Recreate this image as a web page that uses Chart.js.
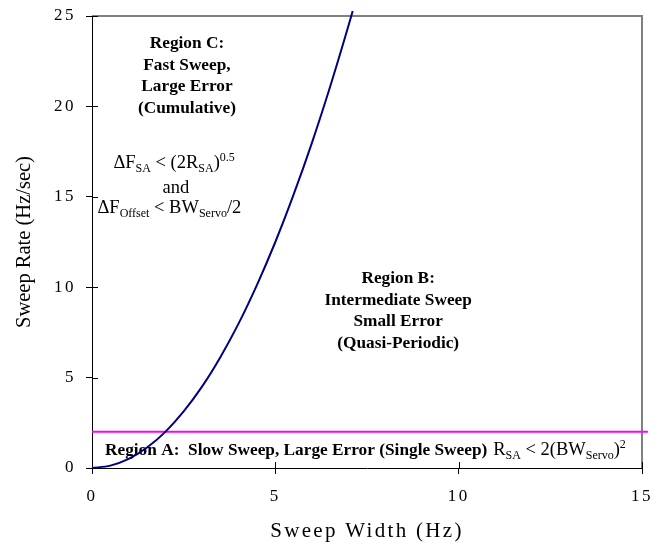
<!DOCTYPE html>
<html>
<head>
<meta charset="utf-8">
<script src="https://cdn.jsdelivr.net/npm/chart.js@4/dist/chart.umd.min.js"></script>
<style>
  html, body { margin: 0; padding: 0; background: #ffffff; }
  #wrap { width: 662px; height: 544px; }
  canvas { display: block; }
</style>
</head>
<body>
<div id="wrap"><canvas id="c" width="662" height="544"></canvas></div>
<script>
// ---- data ----
const sweepWidth = [0, 0.5, 1, 1.5, 2, 2.5, 3, 3.5, 4, 4.5, 5, 5.5, 6, 6.5, 7, 7.11];
const sweepRate  = [0, 0.13, 0.5, 1.13, 2, 3.13, 4.5, 6.13, 8, 10.13, 12.5, 15.13, 18, 21.13, 24.5, 25.28];
const limitWidth = [0, 15.16];
const limitRate  = [2, 2];
const xTicks = [0, 5, 10, 15];
const yTicks = [0, 5, 10, 15, 20, 25];
const xTitle = 'Sweep Width (Hz)';
const yTitle = 'Sweep Rate (Hz/sec)';
const regionC = ['Region C:', 'Fast Sweep,', 'Large Error', '(Cumulative)'];
const regionB = ['Region B:', 'Intermediate Sweep', 'Small Error', '(Quasi-Periodic)'];
const regionA = 'Region A:  Slow Sweep, Large Error (Single Sweep)';
const formulaC1 = [['ΔF','n'],['SA','s'],[' < (2R','n'],['SA','s'],[')','n'],['0.5','p']];
const formulaC2 = [['and','n']];
const formulaC3 = [['ΔF','n'],['Offset','s'],[' < BW','n'],['Servo','s'],['/2','n']];
const formulaA  = [['R','n'],['SA','s'],[' < 2(BW','n'],['Servo','s'],[')','n'],['2','p']];

const FAM = '"Liberation Serif", "Times New Roman", serif';

function drawRich(ctx, segs, x, y, align, sizes) {
  const fontFor = st => st === 'b' ? `bold ${sizes.bold}px ${FAM}`
                    : st === 'n' ? `${sizes.main}px ${FAM}`
                    : `${sizes.small}px ${FAM}`;
  let w = 0;
  const widths = segs.map(([t, st]) => { ctx.font = fontFor(st); const m = ctx.measureText(t).width; w += m; return m; });
  let cx = align === 'center' ? x - w / 2 : x;
  ctx.textAlign = 'left';
  ctx.textBaseline = 'alphabetic';
  segs.forEach(([t, st], i) => {
    ctx.font = fontFor(st);
    const dy = st === 's' ? 4 : st === 'p' ? -7 : 0;
    ctx.fillText(t, cx, y + dy);
    cx += widths[i];
  });
}

const spacingPlugin = {
  id: 'spacing',
  afterLayout(chart) {
    const wrap = (scale, method, sp) => {
      if (!scale || scale['__w_' + method]) return;
      const orig = scale[method];
      scale[method] = function (...a) {
        const c = this.ctx; const p = c.letterSpacing;
        c.letterSpacing = sp; orig.apply(this, a); c.letterSpacing = p || '0px';
      };
      scale['__w_' + method] = true;
    };
    wrap(chart.scales.x, 'drawLabels', '2.5px');
    wrap(chart.scales.y, 'drawLabels', '2.5px');
    wrap(chart.scales.x, 'drawTitle', '2.3px');
  },
  beforeDraw(chart) { chart.ctx.letterSpacing = '0px'; }
};

const annotPlugin = {
  id: 'annot',
  beforeDatasetsDraw(chart) {
    const ctx = chart.ctx;
    const xs = chart.scales.x, ys = chart.scales.y;
    const {left, right, top, bottom} = chart.chartArea;
    ctx.save();
    ctx.letterSpacing = '0px';
    // top and right frame
    ctx.strokeStyle = '#808080';
    ctx.lineWidth = 2;
    ctx.beginPath();
    ctx.moveTo(left, top); ctx.lineTo(right, top); ctx.lineTo(right, bottom);
    ctx.stroke();
    // inner halves of the crossing tick marks
    ctx.strokeStyle = '#000000';
    ctx.lineWidth = 1;
    ctx.beginPath();
    xs.ticks.forEach(t => { const px = Math.round(xs.getPixelForValue(t.value)) + 0.5; ctx.moveTo(px, bottom); ctx.lineTo(px, bottom - 6); });
    ys.ticks.forEach(t => { const py = Math.round(ys.getPixelForValue(t.value)) + 0.5; ctx.moveTo(left, py); ctx.lineTo(left + 6, py); });
    ctx.stroke();

    ctx.fillStyle = '#000000';
    const bigBold = {bold: 17.3, main: 18.5, small: 12};
    // Region C
    let x = xs.getPixelForValue(2.59), y = ys.getPixelForValue(23.23);
    regionC.forEach((t, i) => drawRich(ctx, [[t, 'b']], x, y + i * 21.6, 'center', bigBold));
    drawRich(ctx, formulaC1, xs.getPixelForValue(2.24), ys.getPixelForValue(16.59), 'center', bigBold);
    drawRich(ctx, formulaC2, xs.getPixelForValue(2.29), ys.getPixelForValue(15.21), 'center', bigBold);
    drawRich(ctx, formulaC3, xs.getPixelForValue(2.11), ys.getPixelForValue(14.10), 'center', bigBold);
    // Region B
    x = xs.getPixelForValue(8.35); y = ys.getPixelForValue(10.23);
    regionB.forEach((t, i) => drawRich(ctx, [[t, 'b']], x, y + i * 21.7, 'center', bigBold));
    // Region A
    drawRich(ctx, [[regionA, 'b']], xs.getPixelForValue(0.355), ys.getPixelForValue(0.72), 'left', bigBold);
    drawRich(ctx, formulaA, xs.getPixelForValue(10.94), ys.getPixelForValue(0.72), 'left', bigBold);
    ctx.restore();
  }
};

const tickFont = {family: FAM, size: 17};
new Chart(document.getElementById('c'), {
  type: 'scatter',
  data: {
    datasets: [
      {
        data: sweepWidth.map((v, i) => ({x: v, y: sweepRate[i]})),
        showLine: true,
        borderColor: '#000080',
        borderWidth: 2,
        pointRadius: 0,
        tension: 0.4,
        cubicInterpolationMode: 'monotone',
        clip: false
      },
      {
        data: limitWidth.map((v, i) => ({x: v, y: limitRate[i]})),
        showLine: true,
        borderColor: '#ff00ff',
        borderWidth: 2,
        pointRadius: 0,
        clip: false
      }
    ]
  },
  options: {
    responsive: false,
    animation: false,
    events: [],
    layout: {padding: {top: 16, right: 20, left: 0, bottom: 0}},
    plugins: {legend: {display: false}, tooltip: {enabled: false}, title: {display: false}},
    scales: {
      x: {
        type: 'linear', min: 0, max: 15,
        afterBuildTicks: s => { s.ticks = xTicks.map(v => ({value: v})); },
        afterFit: s => { s.height = 76; s.paddingLeft = 0; s.paddingRight = 0; },
        ticks: {font: tickFont, color: '#000000', padding: 12, maxRotation: 0},
        grid: {drawOnChartArea: false, tickLength: 6, color: '#000000', tickWidth: 1},
        border: {color: '#000000', width: 1},
        title: {display: true, text: xTitle, color: '#000000', font: {family: FAM, size: 21, lineHeight: 1.2}, padding: {top: 0, bottom: 0.4}}
      },
      y: {
        type: 'linear', min: 0, max: 25,
        afterBuildTicks: s => { s.ticks = yTicks.map(v => ({value: v})); },
        afterFit: s => { s.width = 92; s.paddingTop = 0; s.paddingBottom = 0; },
        ticks: {font: tickFont, color: '#000000', padding: 10},
        grid: {drawOnChartArea: false, tickLength: 6, color: '#000000', tickWidth: 1},
        border: {color: '#000000', width: 1},
        title: {display: true, text: yTitle, color: '#000000', font: {family: FAM, size: 20.5, lineHeight: 1.2}, padding: {top: 12, bottom: 0}}
      }
    }
  },
  plugins: [spacingPlugin, annotPlugin]
});
</script>
</body>
</html>
